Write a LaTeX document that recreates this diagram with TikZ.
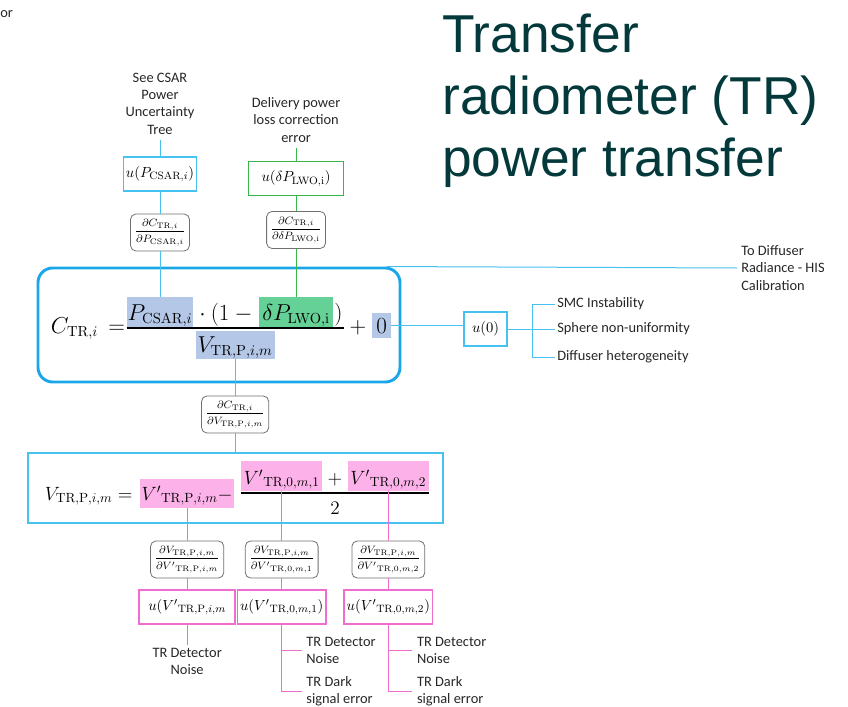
\documentclass[tikz,border=0pt]{standalone}
\usepackage{amsmath}
\usepackage[no-math]{fontspec}
\setmainfont{Carlito}
\newfontfamily\titlefont{Liberation Sans}
\usetikzlibrary{positioning}

\definecolor{mainblue}{HTML}{1AA6E9}
\definecolor{cblue}{HTML}{45C2F0}
\definecolor{cgreen}{HTML}{3BB54A}
\definecolor{cpink}{HTML}{F06CCE}
\definecolor{hlblue}{HTML}{B4C7E7}
\definecolor{hlgreen}{HTML}{66D197}
\definecolor{hlpink}{HTML}{FDB1E9}
\definecolor{pdgray}{HTML}{707070}
\definecolor{titlecol}{HTML}{04393B}
\definecolor{txtgray}{HTML}{262626}

\tikzset{
  lbl/.style={font=\fontsize{10.8}{13}\selectfont, text=txtgray, align=center},
  ubox/.style={draw, line width=1pt, fill=white, minimum height=25.5pt, inner xsep=2pt, font=\fontsize{11}{13}\selectfont},
  pdbox/.style={draw=pdgray, line width=0.6pt, rounded corners=4pt, fill=white, minimum height=27.75pt, inner xsep=3pt, inner ysep=1pt, font=\fontsize{8.5}{9}\selectfont},
  eqa/.style={inner xsep=0.5pt, inner ysep=0pt, font=\fontsize{16}{19}\selectfont},
  eqb/.style={inner xsep=0.5pt, inner ysep=0pt, font=\fontsize{14}{17}\selectfont},
  conn/.style={line width=0.75pt},
}

\begin{document}
\begin{tikzpicture}[x=0.75pt, y=-0.75pt]
\useasboundingbox (0,0) rectangle (848,706);

% title
\node (title) [anchor=north west, align=left, inner sep=0pt, text=titlecol, font=\titlefont\fontsize{40}{46.5}\selectfont] at (442,14) {Transfer\\radiometer (TR)\\power transfer};
\node (cut) [lbl, anchor=base west, inner sep=0pt] at (0,18) {or};

% frames of the two equations
\node (main) [draw=mainblue, line width=2.2pt, rounded corners=11pt, minimum width=271.5pt, minimum height=85.5pt] at (219,325) {};
\node (vbox) [draw=cblue, line width=0.9pt, minimum width=311.25pt, minimum height=52.5pt] at (235.5,488) {};

% rows
\coordinate (cbar) at (0,328);
\coordinate (cden) at (0,352);
\coordinate (vnum) at (0,484);
\coordinate (vbar) at (0,493);
\coordinate (vden) at (0,514);

% C_TR,i equation
\node (ceq) [eqa, anchor=base west] at (50,333) {$C_{\mathrm{TR},i}\,={}$};
\node (pcsar) [eqa, fill=hlblue, text height=17pt, text depth=5pt, anchor=base] at (160,320) {$P_{\mathrm{CSAR},i}$};
\node (dotp) [eqa, base right=0pt of pcsar] {${}\cdot(1-{}$};
\node (dplwo) [eqa, fill=hlgreen, text height=17pt, text depth=5pt, inner xsep=2.5pt, base right=0pt of dotp] {$\delta P_{\mathrm{LWO,i}}$};
\node (rpar) [eqa, base right=0pt of dplwo] {$)$};
\draw [line width=0.9pt] (pcsar.west |- cbar) -- (rpar.east |- cbar);
\path (pcsar.west |- cden) -- (rpar.east |- cden) node [midway, eqa, fill=hlblue, text height=16pt, text depth=5pt, inner xsep=1.5pt, anchor=base] (vtrp) {$V_{\mathrm{TR,P},i,m}$};
\node (plus) [eqa, anchor=base west] at (rpar.east |- ceq.base) {${}+{}$};
\node (zero) [eqa, fill=hlblue, text height=15pt, text depth=4pt, inner xsep=3pt, base right=0pt of plus] {$0$};

% V_TR,P,i,m equation
\node (vlhs) [eqb, anchor=base west] at (44,500) {$V_{\mathrm{TR,P},i,m} ={}$};
\node (vprime) [eqb, fill=hlpink, text height=16pt, text depth=6pt, inner xsep=1pt, base right=1pt of vlhs] {${V'}_{\mathrm{TR,P},i,m}-$};
\node (v1) [eqb, fill=hlpink, text height=17pt, text depth=5pt, inner xsep=2pt, anchor=base west] at ([xshift=5pt]vprime.east |- vnum) {${V'}_{\mathrm{TR},0,m,1}$};
\node (vplus) [eqb, base right=0pt of v1] {${}+{}$};
\node (v2) [eqb, fill=hlpink, text height=17pt, text depth=5pt, inner xsep=2pt, base right=0pt of vplus] {${V'}_{\mathrm{TR},0,m,2}$};
\draw [line width=0.9pt] (v1.west |- vbar) -- (v2.east |- vbar);
\path (v1.west |- vden) -- (v2.east |- vden) node [midway, eqb, anchor=base] (vtwo) {$2$};

% upper branches
\node (csartxt) [lbl, anchor=south, inner ysep=4pt] at (pcsar |- 0,140) {See CSAR\\Power\\Uncertainty\\Tree};
\node (ucsar) [ubox, draw=cblue, minimum width=53.25pt] at (pcsar |- 0,174) {$u(P_{\mathrm{CSAR},i})$};
\node (pdc) [pdbox] at (pcsar |- 0,232.5) {$\dfrac{\partial C_{\mathrm{TR},i}}{\partial P_{\mathrm{CSAR},i}}$};
\node (lwotxt) [lbl, anchor=south, inner ysep=4pt] at (dplwo |- 0,148) {Delivery power\\loss correction\\error};
\node (ulwo) [ubox, draw=cgreen, minimum width=71.25pt] at (dplwo |- 0,178.5) {$u(\delta P_{\mathrm{LWO,i}})$};
\node (pdl) [pdbox] at (dplwo |- 0,230) {$\dfrac{\partial C_{\mathrm{TR},i}}{\partial \delta P_{\mathrm{LWO,i}}}$};
\node (todiff) [lbl, align=left, anchor=west, inner xsep=3pt] at (737,268) {To Diffuser\\Radiance - HIS\\Calibration};

% right branch
\node (u0) [ubox, draw=cblue, minimum width=32.25pt] at (485.5,329) {$u(0)$};
\coordinate (br) at (532,329);
\node (smc) [lbl, anchor=west, inner xsep=1.5pt] at (555,304) {SMC Instability};
\node (sph) [lbl, anchor=west, inner xsep=1.5pt] at (555,329) {Sphere non-uniformity};
\node (dif) [lbl, anchor=west, inner xsep=1.5pt] at (555,357) {Diffuser heterogeneity};

% lower branches
\node (pdv) [pdbox] at (vtrp |- 0,414.5) {$\dfrac{\partial C_{\mathrm{TR},i}}{\partial V_{\mathrm{TR,P},i,m}}$};
\node (pd1) [pdbox] at (vprime |- 0,559.5) {$\dfrac{\partial V_{\mathrm{TR,P},i,m}}{\partial {V'}_{\mathrm{TR,P},i,m}}$};
\node (pd2) [pdbox] at (v1 |- 0,559.5) {$\dfrac{\partial V_{\mathrm{TR,P},i,m}}{\partial {V'}_{\mathrm{TR},0,m,1}}$};
\node (pd3) [pdbox] at (v2 |- 0,559.5) {$\dfrac{\partial V_{\mathrm{TR,P},i,m}}{\partial {V'}_{\mathrm{TR},0,m,2}}$};
\node (uv1) [ubox, draw=cpink, minimum width=72pt] at (vprime |- 0,607) {$u({V'}_{\mathrm{TR,P},i,m}$};
\node (uv2) [ubox, draw=cpink, minimum width=63.75pt] at (v1 |- 0,607) {$u({V'}_{\mathrm{TR},0,m,1})$};
\node (uv3) [ubox, draw=cpink, minimum width=65.25pt] at (v2 |- 0,607) {$u({V'}_{\mathrm{TR},0,m,2})$};
\node (det1) [lbl, anchor=north, inner ysep=2pt] at (vprime |- 0,645) {TR Detector\\Noise};
\node (det2) [lbl, align=left, anchor=west] at ([xshift=15pt]v1 |- 0,650.5) {TR Detector\\Noise};
\node (dark2) [lbl, align=left, anchor=west] at ([xshift=15pt]v1 |- 0,691.5) {TR Dark\\signal error};
\node (det3) [lbl, align=left, anchor=west] at ([xshift=18pt]v2 |- 0,650.5) {TR Detector\\Noise};
\node (dark3) [lbl, align=left, anchor=west] at ([xshift=18pt]v2 |- 0,691.5) {TR Dark\\signal error};

% connectors
\draw [conn, cblue] (csartxt.south) -- (ucsar.north);
\draw [conn, cblue] (ucsar.south) -- (pdc.north);
\draw [conn, cblue] (pdc.south) -- (pcsar.north);
\draw [conn, cgreen] (lwotxt.south) -- (ulwo.north);
\draw [conn, cgreen] (ulwo.south) -- (pdl.north);
\draw [conn, cgreen] (pdl.south) -- (dplwo.north);
\draw [conn, cblue] ([xshift=-11pt]main.north east) -- (todiff.west);
\draw [conn, cblue] (zero.east) -- (zero.east -| u0.west);
\draw [conn, cblue] (u0.east) -- (br);
\draw [conn, cblue] (br |- smc.west) -- (br |- dif.west);
\foreach \n in {smc,sph,dif}
  \draw [conn, cblue] (br |- \n.west) -- (\n.west);
\draw [conn, cblue] (vtrp.south) -- (pdv.north);
\draw [conn, cblue] (pdv.south) -- (pdv.south |- vbox.north);
\draw [conn, cpink] (vprime.south) -- (pd1.north);
\draw [conn, cpink] (v1.south) -- (pd2.north);
\draw [conn, cpink] (v2.south) -- (pd3.north);
\draw [conn, cpink] (pd1.south) -- (uv1.north);
\draw [conn, cpink] (pd2.south) -- (uv2.north);
\draw [conn, cpink] (pd3.south) -- (uv3.north);
\draw [conn, cpink] (uv1.south) -- (det1.north);
\draw [conn, cpink] (uv2.south) -- (uv2.south |- dark2.west) -- (dark2.west);
\draw [conn, cpink] (uv2.south |- det2.west) -- (det2.west);
\draw [conn, cpink] (uv3.south) -- (uv3.south |- dark3.west) -- (dark3.west);
\draw [conn, cpink] (uv3.south |- det3.west) -- (det3.west);
\end{tikzpicture}
\end{document}
